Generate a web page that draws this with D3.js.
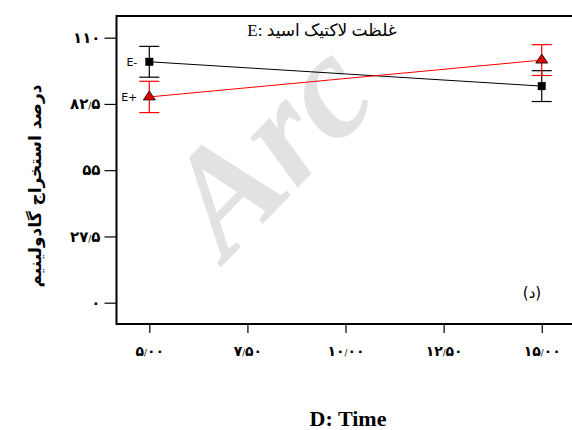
<!DOCTYPE html>
<html><head><meta charset="utf-8">
<script src="https://cdn.jsdelivr.net/npm/d3@7"></script>
<style>body{margin:0;background:#fff}svg{display:block}</style>
</head><body>
<svg id="c" width="572" height="430"></svg>
<script>
const times = [5, 15];
const seriesNames = ["E-", "E+"];
const eMinus = [100.0, 89.9];
const eMinusErr = [6.4, 6.4];
const ePlus = [85.4, 100.7];
const ePlusErr = [6.5, 6.4];
const yTicks = [0, 27.5, 55, 82.5, 110];
const yTickLabels = ["۰", "۲۷/۵", "۵۵", "۸۲/۵", "۱۱۰"];
const xTicks = [5, 7.5, 10, 12.5, 15];
const xTickLabels = ["۵/۰۰", "۷/۵۰", "۱۰/۰۰", "۱۲/۵۰", "۱۵/۰۰"];
const title = "E: غلظت لاکتیک اسید";
const xTitle = "D: Time";
const yTitle = "درصد استخراج گادولینیم";
const panelLabel = "(د)";
const watermark = "Arc";

const svg = d3.select("#c");
const L = 116.5, T = 16, B = 324, R = 580;
const x = d3.scaleLinear().domain([4.164, 15.975]).range([L, R]);
const y = d3.scaleLinear().domain([-8.85, 119]).range([B, T]);

// watermark
svg.append("text").attr("transform","translate(226,262) rotate(-46)")
  .attr("font-family","Liberation Serif").attr("font-style","italic").attr("font-weight","bold")
  .attr("font-size",150).attr("fill","#e2e2e2").text(watermark);

// frame
svg.append("rect").attr("x",L).attr("y",T).attr("width",R-L).attr("height",B-T)
  .attr("fill","none").attr("stroke","#000").attr("stroke-width",2);

function setLabel(sel, labels, size) {
  sel.each(function(d,i){
    const t = d3.select(this).text(null);
    const parts = labels[i].split("/");
    parts.forEach((p,k)=>{
      if (k>0) t.append("tspan").attr("font-size",size*0.6).attr("font-weight","normal").text("/");
      t.append("tspan").text(p);
    });
  });
}

// axes
const yAxis = d3.axisLeft(y).tickValues(yTicks).tickSize(12).tickPadding(4);
const gy = svg.append("g").attr("transform",`translate(${L},0)`).call(yAxis);
gy.select(".domain").remove();
gy.selectAll("line").attr("stroke-width",1.2);
gy.selectAll("text").attr("font-family","DejaVu Sans").attr("font-weight","bold").attr("font-size",15).attr("fill","#000")
  .call(setLabel, yTickLabels, 15);

const xAxis = d3.axisBottom(x).tickValues(xTicks).tickSize(9).tickPadding(13);
const gx = svg.append("g").attr("transform",`translate(0,${B})`).call(xAxis);
gx.select(".domain").remove();
gx.selectAll("line").attr("stroke-width",1.2);
gx.selectAll("text").attr("font-family","DejaVu Sans").attr("font-weight","bold").attr("font-size",14).attr("fill","#000")
  .call(setLabel, xTickLabels, 14);

// series
const series = [
  {name: seriesNames[0], vals: eMinus, err: eMinusErr, color: "#000", marker: "square"},
  {name: seriesNames[1], vals: ePlus, err: ePlusErr, color: "#ff0000", marker: "triangle"}
];
const line = d3.line().x((d,i)=>x(times[i])).y(d=>y(d));
series.forEach(s=>{
  const g = svg.append("g");
  g.append("path").attr("d", line(s.vals)).attr("fill","none").attr("stroke",s.color).attr("stroke-width",1);
  s.vals.forEach((v,i)=>{
    const cx = x(times[i]);
    const top = y(v + s.err[i]), bot = y(v - s.err[i]);
    g.append("line").attr("x1",cx).attr("x2",cx).attr("y1",top).attr("y2",bot).attr("stroke",s.color).attr("stroke-width",1.2);
    [top,bot].forEach(yy=>g.append("line").attr("x1",cx-10).attr("x2",cx+10).attr("y1",yy).attr("y2",yy).attr("stroke",s.color).attr("stroke-width",1.2));
    if (s.marker==="square") {
      g.append("rect").attr("x",cx-4).attr("y",y(v)-4).attr("width",8).attr("height",8).attr("fill","#000");
    } else {
      const cy = y(v);
      g.append("path").attr("d",`M${cx},${cy-6}L${cx+6},${cy+3}L${cx-6},${cy+3}Z`).attr("fill","#e00000").attr("stroke","#000").attr("stroke-width",0.8);
    }
  });
  svg.append("text").attr("x", x(times[0])-12).attr("y", y(s.vals[0])+4).attr("text-anchor","end")
    .attr("font-family","DejaVu Sans").attr("font-size",11).attr("fill","#000").text(s.name);
});

// title
svg.append("text").attr("x",322).attr("y",36).attr("text-anchor","middle")
  .attr("font-family","Liberation Serif, DejaVu Sans").attr("font-size",17).attr("fill","#000").text(title);
// panel label
svg.append("text").attr("x",532).attr("y",298).attr("text-anchor","middle")
  .attr("font-family","DejaVu Sans").attr("font-size",15).attr("fill","#000").text(panelLabel);
// x title
svg.append("text").attr("x",348).attr("y",426).attr("text-anchor","middle")
  .attr("font-family","Liberation Serif").attr("font-weight","bold").attr("font-size",22).attr("fill","#000").text(xTitle);
// y title
svg.append("text").attr("transform","translate(41,186) rotate(-90)").attr("text-anchor","middle")
  .attr("font-family","DejaVu Sans").attr("font-weight","bold").attr("font-size",17).attr("fill","#000").text(yTitle);
</script>
</body></html>
